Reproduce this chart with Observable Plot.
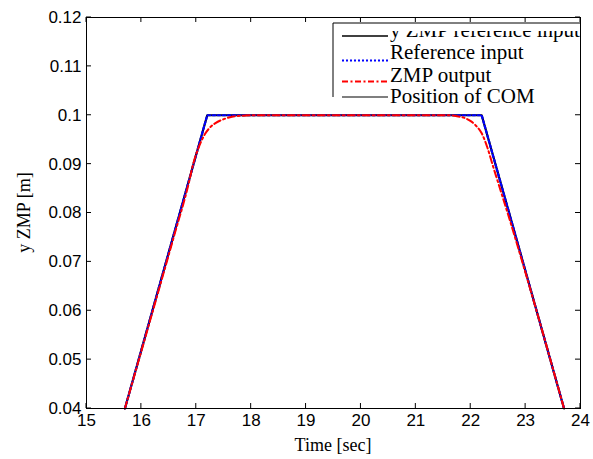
<!DOCTYPE html>
<html><head><meta charset="utf-8">
<script src="https://cdn.jsdelivr.net/npm/d3@7"></script>
<script src="https://cdn.jsdelivr.net/npm/@observablehq/plot@0.6"></script>
<style>body{margin:0;background:#fff}#chart{width:593px;height:459px}</style>
</head><body><div id="chart"></div>
<script>
// y ZMP reference input (black) and Reference input (blue dotted) share this path
const refT = [15.7, 17.2, 22.2, 23.7];
const refY = [0.04, 0.1, 0.1, 0.04];
// ZMP output (red dash-dot)
const zmpT = [15.7, 16.6, 16.85, 16.95, 17.05, 17.15, 17.25, 17.35, 17.5, 17.65, 17.9, 18.1,
              21.6, 21.75, 21.9, 22.0, 22.1, 22.2, 22.3, 22.4, 22.5, 22.7, 23.0, 23.7];
const zmpY = [0.04, 0.0755, 0.0855, 0.0903, 0.0936, 0.0960, 0.0975, 0.0984, 0.0992, 0.0997, 0.09995, 0.1,
              0.1, 0.0998, 0.0994, 0.0988, 0.0978, 0.0963, 0.0935, 0.0898, 0.0862, 0.0790, 0.0677, 0.04];
const xTicks = [15, 16, 17, 18, 19, 20, 21, 22, 23, 24];
const yTicks = [0.04, 0.05, 0.06, 0.07, 0.08, 0.09, 0.1, 0.11, 0.12];
const yTickLabels = ["0.04", "0.05", "0.06", "0.07", "0.08", "0.09", "0.1", "0.11", "0.12"];
const legendLabels = ["y ZMP reference input", "Reference input", "ZMP output", "Position of COM"];
const xLabel = "Time [sec]";
const yLabel = "y ZMP [m]";

const ref = refT.map((t, i) => ({t, y: refY[i]}));
const zmp = zmpT.map((t, i) => ({t, y: zmpY[i]}));

const chart = Plot.plot({
  width: 593, height: 459,
  marginLeft: 86, marginRight: 13, marginTop: 17, marginBottom: 51,
  style: {fontFamily: "'Liberation Sans', Arial, sans-serif", fontSize: "17px", color: "#000", background: "#fff", overflow: "visible"},
  x: {domain: [15, 24], ticks: xTicks, tickSize: 0, tickPadding: 5, label: null},
  y: {domain: [0.04, 0.12], ticks: yTicks, tickSize: 0, tickPadding: 5, tickFormat: (d) => yTickLabels[yTicks.indexOf(d)], label: null},
  marks: [
    Plot.line(ref, {x: "t", y: "y", stroke: "#000", strokeWidth: 2.2}),
    Plot.line(ref, {x: "t", y: "y", stroke: "#0000ff", strokeWidth: 2.2, strokeDasharray: "2.5,2.5"}),
    Plot.line(zmp, {x: "t", y: "y", stroke: "#ff0000", strokeWidth: 2, strokeDasharray: "7,3,2,3", curve: "monotone-x"}),
    Plot.frame({stroke: "#000", strokeWidth: 1})
  ]
});

const sx = chart.scale("x"), sy = chart.scale("y");
const L = sx.apply(15), R = sx.apply(24), B = sy.apply(0.04), T = sy.apply(0.12);
const svg = d3.select(chart);
const tg = svg.append("g").attr("stroke", "#000").attr("stroke-width", 1);
const tk = 5;
for (const t of xTicks) {
  const X = sx.apply(t);
  tg.append("line").attr("x1", X).attr("x2", X).attr("y1", B).attr("y2", B - tk);
  tg.append("line").attr("x1", X).attr("x2", X).attr("y1", T).attr("y2", T + tk);
}
for (const v of yTicks) {
  const Y = sy.apply(v);
  tg.append("line").attr("x1", L).attr("x2", L + tk).attr("y1", Y).attr("y2", Y);
  tg.append("line").attr("x1", R).attr("x2", R - tk).attr("y1", Y).attr("y2", Y);
}

const serif = "'Liberation Serif', 'Times New Roman', serif";
// axis labels
svg.append("text").attr("x", (L + R) / 2).attr("y", 451).attr("text-anchor", "middle")
  .attr("font-family", serif).attr("font-size", 18).attr("fill", "#000").text(xLabel);
svg.append("text").attr("transform", `translate(24,${(T + B) / 2}) rotate(-90)`).attr("text-anchor", "middle")
  .attr("dy", "0.35em")
  .attr("font-family", serif).attr("font-size", 18).attr("fill", "#000").text(yLabel);

// legend
const defs = svg.append("defs");
defs.append("clipPath").attr("id", "legclip").append("rect").attr("x", 0).attr("y", 0).attr("width", R).attr("height", 459);
defs.append("clipPath").attr("id", "firstclip").append("rect").attr("x", 0).attr("y", 31).attr("width", R).attr("height", 100);
const lg = svg.append("g").attr("clip-path", "url(#legclip)");
const bx = 333, by = 23, bb = 97;
lg.append("rect").attr("x", bx).attr("y", by).attr("width", R - bx + 10).attr("height", bb - by).attr("fill", "#fff").attr("stroke", "none");
lg.append("path").attr("d", `M${bx},${bb}V${by}H${R + 10}`).attr("fill", "none").attr("stroke", "#000").attr("stroke-width", 1);
const sampleY = [36, 60.5, 81.5, 97];
const textY = [37.3, 59.3, 81.7, 103.3];
const styles = [
  {stroke: "#000", dash: null, w: 1.5},
  {stroke: "#0000ff", dash: "2,2", w: 2},
  {stroke: "#ff0000", dash: "6,2.5,2,2.5", w: 2},
  {stroke: "#000", dash: null, w: 1.2}
];
legendLabels.forEach((lab, i) => {
  lg.append("line").attr("x1", bx + 9).attr("x2", 388).attr("y1", sampleY[i]).attr("y2", sampleY[i])
    .attr("stroke", styles[i].stroke).attr("stroke-width", styles[i].w).attr("stroke-dasharray", styles[i].dash);
  const tx = lg.append("text").attr("x", 390).attr("y", textY[i]).attr("text-anchor", "start")
    .attr("font-family", serif).attr("font-size", 21).attr("fill", "#000").text(lab);
  if (i === 0) tx.attr("clip-path", "url(#firstclip)");
});

document.getElementById("chart").appendChild(chart);
</script>
</body></html>
